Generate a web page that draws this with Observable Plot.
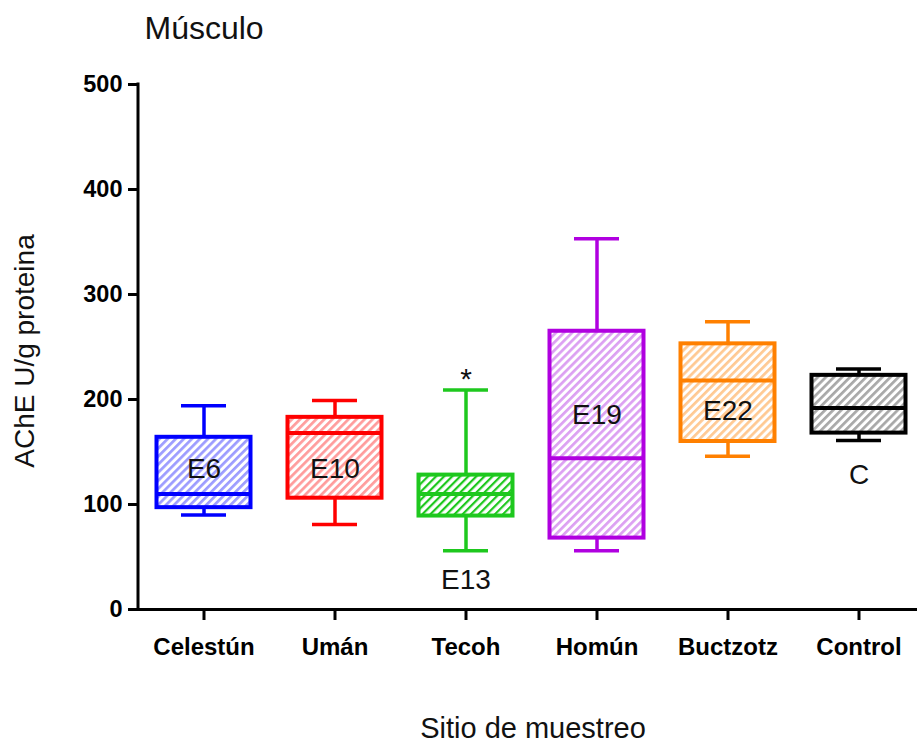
<!DOCTYPE html>
<html>
<head>
<meta charset="utf-8">
<script src="https://cdn.jsdelivr.net/npm/d3@7"></script>
<script src="https://cdn.jsdelivr.net/npm/@observablehq/plot@0.6"></script>
<style>
  html, body { margin: 0; padding: 0; background: #fff; }
  svg { display: block; }
</style>
</head>
<body>
<div id="chart"></div>
<script>
// ---- data ----
const sites = ["Celestún", "Umán", "Tecoh", "Homún", "Buctzotz", "Control"];
const whiskerLow  = [90, 81, 56, 56, 146, 161];
const quartile1   = [97, 106, 89, 68, 160, 168];
const medians     = [110, 168, 110, 144, 218, 192];
const quartile3   = [164, 183, 128, 265, 253, 223];
const whiskerHigh = [194, 199, 209, 353, 274, 229];
const boxLabels   = ["E6", "E10", "E13", "E19", "E22", "C"];
const boxLabelY   = [134, 134, 28, 185, 189, 128];
const strokeColors = ["#0000ff", "#ff0000", "#1ec81e", "#b000e0", "#ff8000", "#000000"];
const hatchColors  = ["#9c9cff", "#ff9c9c", "#1ec81e", "#dca0f2", "#ffc992", "#a8a8a8"];
const sigSites = ["Tecoh"];
const sigY = [219];
const sigText = ["*"];
const yTicks = [0, 100, 200, 300, 400, 500];
const titleText = ["Músculo"];
const yLabelText = ["AChE U/g proteina"];
const xLabelText = ["Sitio de muestreo"];

const boxes = sites.map((site, i) => ({
  site,
  lo: whiskerLow[i], q1: quartile1[i], med: medians[i], q3: quartile3[i], hi: whiskerHigh[i],
  color: strokeColors[i], pattern: `url(#hatch${i})`,
  label: boxLabels[i], ly: boxLabelY[i]
}));
const sig = sigSites.map((site, i) => ({site, y: sigY[i], text: sigText[i]}));

const W = 917, H = 747;
const FONT = "'Liberation Sans', Arial, Helvetica, sans-serif";

const plot = Plot.plot({
  width: W,
  height: H,
  marginLeft: 138,
  marginRight: 0,
  marginTop: 84,
  marginBottom: 138,
  style: {fontFamily: FONT, background: "#fff", color: "#000"},
  x: {type: "band", domain: sites, range: [138, 924], padding: 0},
  y: {domain: [0, 500]},
  color: {type: "identity"},
  marks: [
    // whiskers
    Plot.ruleX(boxes, {x: "site", y1: "lo", y2: "q1", stroke: "color", strokeWidth: 3.5}),
    Plot.ruleX(boxes, {x: "site", y1: "q3", y2: "hi", stroke: "color", strokeWidth: 3.5}),
    Plot.tickY(boxes, {x: "site", y: "lo", stroke: "color", strokeWidth: 3.5, insetLeft: 43, insetRight: 43}),
    Plot.tickY(boxes, {x: "site", y: "hi", stroke: "color", strokeWidth: 3.5, insetLeft: 43, insetRight: 43}),
    // boxes
    Plot.barY(boxes, {x: "site", y1: "q1", y2: "q3", fill: "pattern", stroke: "color", strokeWidth: 4, insetLeft: 18.5, insetRight: 18.5}),
    Plot.tickY(boxes, {x: "site", y: "med", stroke: "color", strokeWidth: 4, insetLeft: 18.5, insetRight: 18.5}),
    // labels
    Plot.text(boxes, {x: "site", y: "ly", text: "label", fontSize: 28, fill: "#111"}),
    Plot.text(sig, {x: "site", y: "y", text: "text", fontSize: 30, fill: "#111"}),
    // axes
    Plot.ruleY([0], {strokeWidth: 3}),
    Plot.axisY({ticks: yTicks, tickSize: 10, tickPadding: 6, fontSize: 23.5, fontWeight: "bold", strokeWidth: 3, label: null}),
    Plot.axisX({tickSize: 11, tickPadding: 17, fontSize: 24, fontWeight: "bold", strokeWidth: 3, label: null}),
    // titles
    Plot.text(titleText, {frameAnchor: "top-left", text: d => d, dx: 6, dy: -56, textAnchor: "start", lineAnchor: "middle", fontSize: 32, fill: "#111"}),
    Plot.text(yLabelText, {frameAnchor: "left", text: d => d, rotate: -90, dx: -113, dy: 4, textAnchor: "middle", lineAnchor: "middle", fontSize: 28, fill: "#111"}),
    Plot.text(xLabelText, {frameAnchor: "bottom", text: d => d, dx: 5, dy: 119, textAnchor: "middle", lineAnchor: "middle", fontSize: 29, fill: "#111"})
  ]
});

// hatch patterns
const svg = d3.select(plot);
const defs = svg.insert("defs", ":first-child");
hatchColors.forEach((c, i) => {
  const p = defs.append("pattern")
    .attr("id", `hatch${i}`)
    .attr("patternUnits", "userSpaceOnUse")
    .attr("width", 5.7).attr("height", 5.7)
    .attr("patternTransform", "rotate(45)");
  p.append("rect").attr("width", 5.7).attr("height", 5.7).attr("fill", "#fff");
  p.append("rect").attr("width", i === 2 ? 2.2 : 2.7).attr("height", 5.7).attr("fill", c);
});

// y axis line from the plot's own scales
const xs = plot.scale("x"), ys = plot.scale("y");
svg.append("line")
  .attr("x1", xs.range[0]).attr("x2", xs.range[0])
  .attr("y1", ys.apply(500) - 1.5).attr("y2", ys.apply(0) + 1.5)
  .attr("stroke", "#000").attr("stroke-width", 3);

document.getElementById("chart").appendChild(plot);
</script>
</body>
</html>
